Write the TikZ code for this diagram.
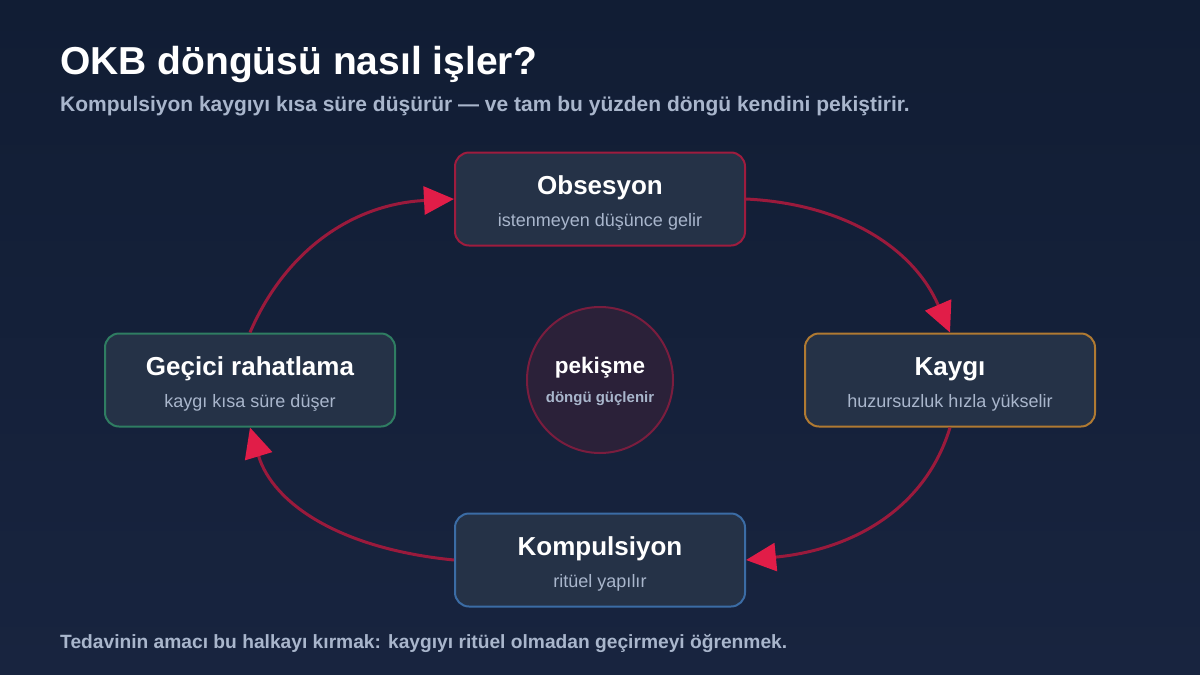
\documentclass[tikz,border=0pt]{standalone}
\usepackage{fontspec}
\setmainfont{Liberation Sans}
\usetikzlibrary{arrows.meta}

\definecolor{bgtop}{HTML}{111D34}
\definecolor{bgbot}{HTML}{18243F}
\definecolor{cardfill}{HTML}{253247}
\definecolor{subtext}{HTML}{A9B6CC}
\definecolor{linkred}{HTML}{9A1A3C}
\definecolor{tipred}{HTML}{E11D48}
\definecolor{obsline}{HTML}{9F1C3E}
\definecolor{kayline}{HTML}{B07A32}
\definecolor{komline}{HTML}{3B6CA5}
\definecolor{gecline}{HTML}{2F7D62}
\definecolor{hubfill}{HTML}{2B2139}
\definecolor{hubline}{HTML}{7A1D3E}

\begin{document}
\begin{tikzpicture}[x=1pt,y=-1pt,
    card/.style={draw, line width=2pt, rounded corners=14pt, fill=cardfill,
        minimum width=290pt, minimum height=93pt},
    txt/.style={inner sep=0pt},
    head/.style={txt, anchor=base, text=white, font=\bfseries\fontsize{26}{30}\selectfont},
    sub/.style={txt, anchor=base, text=subtext, font=\fontsize{18}{21}\selectfont},
    loop/.style={draw=linkred, line width=3pt,
        -{Triangle[length=30pt,width=28pt,color=tipred]}}]

    % background
    \shade[top color=bgtop, bottom color=bgbot]
        (0,0) rectangle (1200,675);
    \useasboundingbox (0,0) rectangle (1200,675);

    % title lines
    \node[txt, anchor=base west, text=white, font=\bfseries\fontsize{39}{44}\selectfont]
        (title) at (60,74) {OKB döngüsü nasıl işler?};
    \node[txt, anchor=base west, text=subtext, font=\bfseries\fontsize{21}{24}\selectfont]
        (lead) at (60,111) {Kompulsiyon kaygıyı kısa süre düşürür — ve tam bu yüzden döngü kendini pekiştirir.};

    % the four steps
    \node[card, draw=obsline] (obs) at (600,199) {};
    \node[card, draw=kayline] (kay) at (950,380) {};
    \node[card, draw=komline] (kom) at (600,560) {};
    \node[card, draw=gecline] (gec) at (250,380) {};

    \node[head] (obsH) at ([yshift=5pt]obs.center) {Obsesyon};
    \node[sub]  (obsS) at ([yshift=-27pt]obs.center) {istenmeyen düşünce gelir};
    \node[head] (kayH) at ([yshift=5pt]kay.center) {Kaygı};
    \node[sub]  (kayS) at ([yshift=-27pt]kay.center) {huzursuzluk hızla yükselir};
    \node[head] (komH) at ([yshift=5pt]kom.center) {Kompulsiyon};
    \node[sub]  (komS) at ([yshift=-27pt]kom.center) {ritüel yapılır};
    \node[head] (gecH) at ([yshift=5pt]gec.center) {Geçici rahatlama};
    \node[sub]  (gecS) at ([yshift=-27pt]gec.center) {kaygı kısa süre düşer};

    % centre
    \node[circle, draw=hubline, line width=2pt, fill=hubfill, minimum size=146pt]
        (hub) at (600,380) {};
    \node[txt, anchor=base, text=white, font=\bfseries\fontsize{22.5}{26}\selectfont]
        (hubH) at ([yshift=7pt]hub.center) {pekişme};
    \node[txt, anchor=base, text=subtext, font=\bfseries\fontsize{15}{18}\selectfont]
        (hubS) at ([yshift=-22pt]hub.center) {döngü güçlenir};

    % cycle arrows
    \draw[loop] (obs.east) .. controls (846,204) and (914,249) .. (kay.north);
    \draw[loop] (kay.south) .. controls (927,504) and (859,549) .. (kom.east);
    \draw[loop] (kom.west) .. controls (341,549) and (273,504) .. (gec.south);
    \draw[loop] (gec.north) .. controls (286,249) and (354,204) .. (obs.west);

    % footer
    \node[txt, anchor=base west, text=subtext, font=\bfseries\fontsize{19.2}{22}\selectfont]
        (note) at (60,648) {Tedavinin amacı bu halkayı kırmak: kaygıyı ritüel olmadan geçirmeyi öğrenmek.};

\end{tikzpicture}
\end{document}
